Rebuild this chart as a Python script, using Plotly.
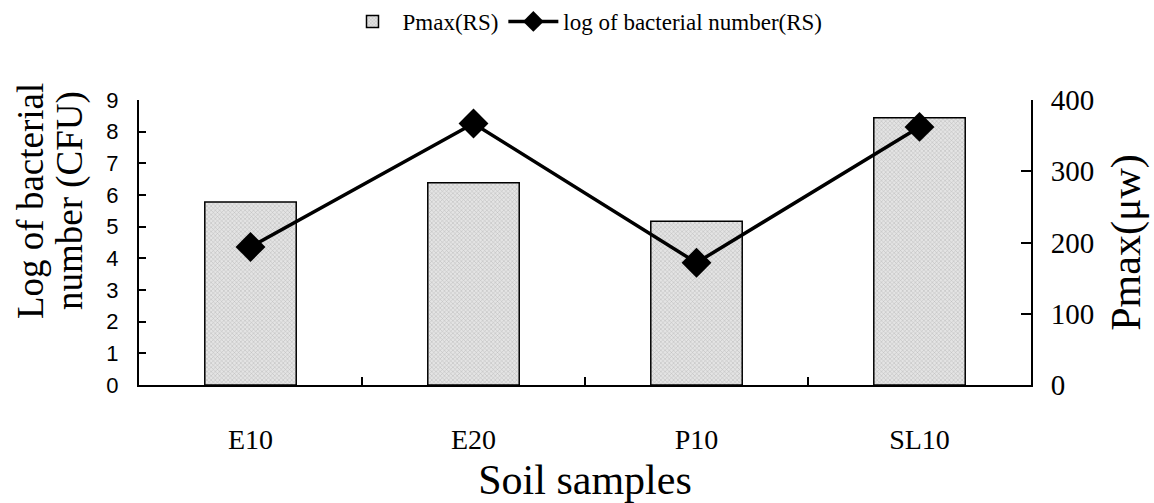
import plotly.graph_objects as go

categories = ["E10", "E20", "P10", "SL10"]
pmax_values = [257, 284, 230, 375]
log_bacterial = [4.36, 8.26, 3.86, 8.15]
left_ticks = [0, 1, 2, 3, 4, 5, 6, 7, 8, 9]
right_ticks = [0, 100, 200, 300, 400]
left_title_lines = ["Log of bacterial", "number (CFU)"]

serif = "Liberation Serif, Times New Roman, serif"
sans = "Liberation Sans, Arial, sans-serif"

fig = go.Figure()
fig.add_trace(go.Bar(
    x=categories, y=pmax_values, name="Pmax(RS)", yaxis="y",
    marker=dict(color="#e0e0e0", line=dict(color="black", width=1.5),
                pattern=dict(shape="x", size=3, fgcolor="#8a8a8a", bgcolor="#e4e4e4", solidity=0.3)),
))
fig.add_trace(go.Scatter(
    x=categories, y=log_bacterial, name="log of bacterial number(RS)", yaxis="y2",
    mode="lines+markers",
    line=dict(color="black", width=3.5),
    marker=dict(symbol="diamond", size=23, color="black"),
))

# left axis title as two rotated lines, placed like the reference
for line_text, xpx in zip(left_title_lines, [30, 70]):
    fig.add_annotation(
        text=line_text, textangle=-90, showarrow=False,
        xref="paper", yref="paper",
        x=(xpx - 139) / 892, y=(385 - 201) / 285,
        xanchor="center", yanchor="middle",
        font=dict(family=serif, size=37, color="black"),
    )

fig.update_layout(
    width=1154, height=503,
    margin=dict(l=139, r=123, t=100, b=118, autoexpand=False),
    paper_bgcolor="white", plot_bgcolor="white",
    bargap=0.59,
    showlegend=True,
    legend=dict(orientation="h", x=0.5, xanchor="center", y=1.0, yref="container", yanchor="top",
                font=dict(family=serif, size=23, color="black"), traceorder="normal",
                itemwidth=50),
    xaxis=dict(
        automargin=False,
        showline=True, linecolor="black", linewidth=2,
        ticks="inside", ticklen=8, tickcolor="black", tickwidth=2, tickson="boundaries",
        tickfont=dict(family=serif, size=28, color="black"), ticklabelstandoff=28,
        title=dict(text="Soil samples", font=dict(family=serif, size=42, color="black"), standoff=13),
        showgrid=False, zeroline=False,
    ),
    yaxis=dict(
        automargin=False,
        range=[0, 400], tickvals=right_ticks, side="right",
        showline=True, linecolor="black", linewidth=2,
        ticks="inside", ticklen=10, tickcolor="black", tickwidth=2,
        tickfont=dict(family=serif, size=29, color="black"), ticklabelstandoff=12,
        title=dict(text="Pmax(μw)", font=dict(family=serif, size=42, color="black"), standoff=17),
        showgrid=False, zeroline=False,
    ),
    yaxis2=dict(
        automargin=False,
        range=[0, 9], tickvals=left_ticks, overlaying="y", side="left",
        showline=True, linecolor="black", linewidth=2,
        ticks="inside", ticklen=7, tickcolor="black", tickwidth=2,
        tickfont=dict(family=sans, size=22, color="black"), ticklabelstandoff=14,
        showgrid=False, zeroline=False,
    ),
)

fig.write_html("out.html")
